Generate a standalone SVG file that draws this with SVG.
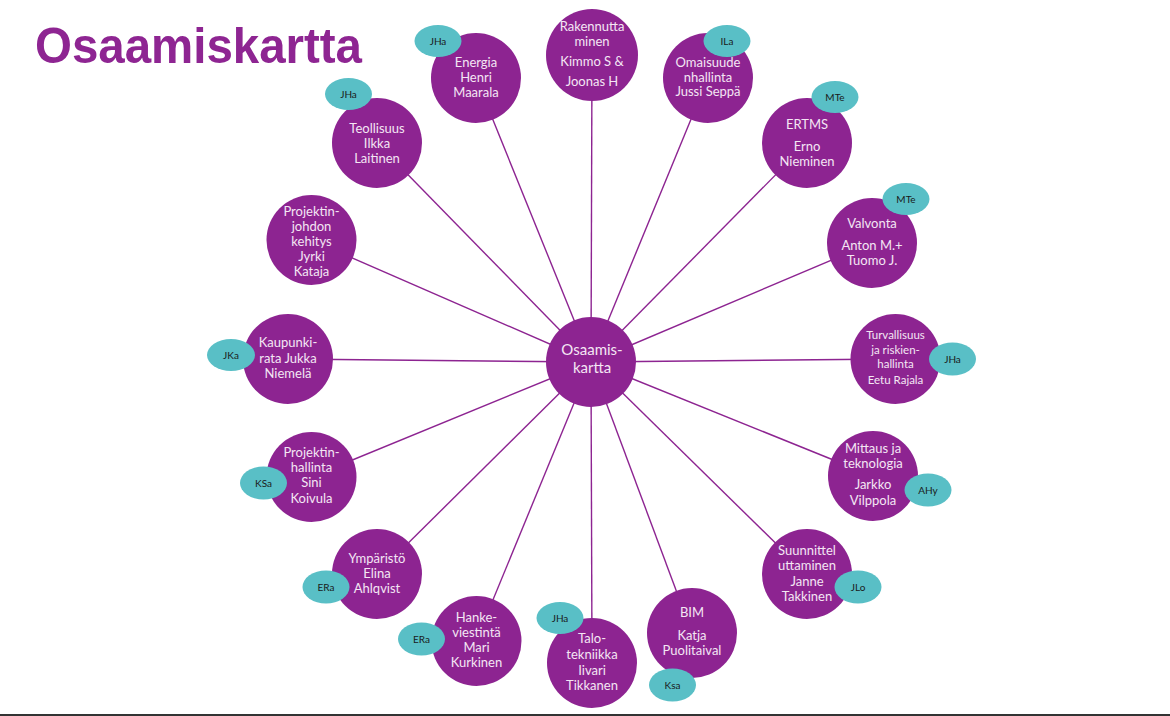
<svg xmlns="http://www.w3.org/2000/svg" width="1170" height="716" viewBox="0 0 1170 716">
<style>
.n{fill:#8D2491}
.o{fill:#59BFC6}
.t{font-family:Lato,"Open Sans","Liberation Sans",sans-serif;font-size:13px;fill:#F4E6F4;text-anchor:middle}
.s{font-size:11.5px}
.c{font-size:15px}
.l{font-family:Lato,"Open Sans","Liberation Sans",sans-serif;font-size:10px;fill:#1A1A1A;text-anchor:middle}
.e{stroke:#8D2491;stroke-width:1.4;fill:none}
</style>
<rect width="1170" height="716" fill="#FFFFFF"/>
<text x="35" y="63" font-family="'Liberation Sans',Arial,sans-serif" font-weight="bold" font-size="50" fill="#8E2592" textLength="327" lengthAdjust="spacingAndGlyphs">Osaamiskartta</text>
<g id="connectors">
<line class="e" x1="591" y1="362" x2="592" y2="55"/>
<line class="e" x1="591" y1="362" x2="476" y2="78"/>
<line class="e" x1="591" y1="362" x2="708" y2="78"/>
<line class="e" x1="591" y1="362" x2="377" y2="143"/>
<line class="e" x1="591" y1="362" x2="807" y2="143"/>
<line class="e" x1="591" y1="362" x2="311" y2="240"/>
<line class="e" x1="591" y1="362" x2="872" y2="243"/>
<line class="e" x1="591" y1="362" x2="288" y2="359"/>
<line class="e" x1="591" y1="362" x2="895" y2="359"/>
<line class="e" x1="591" y1="362" x2="311" y2="477"/>
<line class="e" x1="591" y1="362" x2="873" y2="476"/>
<line class="e" x1="591" y1="362" x2="377" y2="574"/>
<line class="e" x1="591" y1="362" x2="807" y2="574"/>
<line class="e" x1="591" y1="362" x2="476" y2="641"/>
<line class="e" x1="591" y1="362" x2="692" y2="633"/>
<line class="e" x1="591" y1="362" x2="592" y2="663"/>
</g>
<g id="center"><circle class="n" cx="591" cy="362" r="45"/>
<text class="t c"><tspan x="592" y="355">Osaamis-</tspan><tspan x="592" y="373">kartta</tspan></text></g>
<g id="rakennuttaminen"><circle class="n" cx="592" cy="55" r="46"/>
<text class="t"><tspan x="592" y="31">Rakennutta</tspan><tspan x="592" y="46">minen</tspan><tspan x="592" y="66">Kimmo S &amp;</tspan><tspan x="592" y="86">Joonas H</tspan></text></g>
<g id="energia"><circle class="n" cx="476" cy="78" r="45"/>
<text class="t"><tspan x="476" y="67">Energia</tspan><tspan x="476" y="82">Henri</tspan><tspan x="476" y="97">Maarala</tspan></text>
<ellipse class="o" cx="438" cy="41" rx="23.5" ry="16"/><text class="l" x="438" y="45">JHa</text></g>
<g id="omaisuudenhallinta"><circle class="n" cx="708" cy="78" r="45"/>
<text class="t"><tspan x="708" y="67">Omaisuude</tspan><tspan x="708" y="82">nhallinta</tspan><tspan x="708" y="96">Jussi Seppä</tspan></text>
<ellipse class="o" cx="727" cy="41" rx="23.5" ry="16"/><text class="l" x="727" y="45">ILa</text></g>
<g id="teollisuus"><circle class="n" cx="377" cy="143" r="45"/>
<text class="t"><tspan x="377" y="133">Teollisuus</tspan><tspan x="377" y="148">Ilkka</tspan><tspan x="377" y="163">Laitinen</tspan></text>
<ellipse class="o" cx="348.5" cy="94" rx="23.5" ry="16"/><text class="l" x="348.5" y="98">JHa</text></g>
<g id="ertms"><circle class="n" cx="807" cy="143" r="45"/>
<text class="t"><tspan x="807" y="129">ERTMS</tspan><tspan x="807" y="151">Erno</tspan><tspan x="807" y="166">Nieminen</tspan></text>
<ellipse class="o" cx="835" cy="97" rx="23.5" ry="16"/><text class="l" x="835" y="101">MTe</text></g>
<g id="projektinjohdon"><circle class="n" cx="311.5" cy="240" r="45"/>
<text class="t"><tspan x="311.5" y="216">Projektin-</tspan><tspan x="311.5" y="231">johdon</tspan><tspan x="311.5" y="246">kehitys</tspan><tspan x="311.5" y="261">Jyrki</tspan><tspan x="311.5" y="276">Kataja</tspan></text></g>
<g id="valvonta"><circle class="n" cx="872" cy="243" r="45"/>
<text class="t"><tspan x="872" y="228">Valvonta</tspan><tspan x="872" y="250">Anton M.+</tspan><tspan x="872" y="265">Tuomo J.</tspan></text>
<ellipse class="o" cx="906" cy="199" rx="23.5" ry="16"/><text class="l" x="906" y="203">MTe</text></g>
<g id="kaupunkirata"><circle class="n" cx="288" cy="359" r="45"/>
<text class="t"><tspan x="288" y="347">Kaupunki-</tspan><tspan x="288" y="363">rata Jukka</tspan><tspan x="288" y="378">Niemelä</tspan></text>
<ellipse class="o" cx="231" cy="355" rx="24" ry="16"/><text class="l" x="231" y="359">JKa</text></g>
<g id="turvallisuus"><circle class="n" cx="895.5" cy="359" r="45"/>
<text class="t s"><tspan x="895.5" y="339">Turvallisuus</tspan><tspan x="895.5" y="354">ja riskien-</tspan><tspan x="895.5" y="368">hallinta</tspan><tspan x="895.5" y="384">Eetu Rajala</tspan></text>
<ellipse class="o" cx="952.5" cy="359" rx="23.5" ry="16.5"/><text class="l" x="952.5" y="363">JHa</text></g>
<g id="projektinhallinta"><circle class="n" cx="311.5" cy="477" r="45"/>
<text class="t"><tspan x="311.5" y="457">Projektin-</tspan><tspan x="311.5" y="472">hallinta</tspan><tspan x="311.5" y="487">Sini</tspan><tspan x="311.5" y="503">Koivula</tspan></text>
<ellipse class="o" cx="263.5" cy="483" rx="23.5" ry="16.5"/><text class="l" x="263.5" y="487">KSa</text></g>
<g id="mittaus"><circle class="n" cx="873" cy="476" r="45"/>
<text class="t"><tspan x="873" y="453">Mittaus ja</tspan><tspan x="873" y="468">teknologia</tspan><tspan x="873" y="489">Jarkko</tspan><tspan x="873" y="505">Vilppola</tspan></text>
<ellipse class="o" cx="928" cy="490" rx="23.5" ry="16.5"/><text class="l" x="928" y="494">AHy</text></g>
<g id="ymparisto"><circle class="n" cx="377" cy="574" r="45"/>
<text class="t"><tspan x="377" y="563">Ympäristö</tspan><tspan x="377" y="578">Elina</tspan><tspan x="377" y="593">Ahlqvist</tspan></text>
<ellipse class="o" cx="326" cy="587" rx="23.5" ry="16.5"/><text class="l" x="326" y="591">ERa</text></g>
<g id="suunnittelu"><circle class="n" cx="807" cy="574" r="45"/>
<text class="t"><tspan x="807" y="555">Suunnittel</tspan><tspan x="807" y="570">uttaminen</tspan><tspan x="807" y="586">Janne</tspan><tspan x="807" y="601">Takkinen</tspan></text>
<ellipse class="o" cx="858" cy="587" rx="23.5" ry="16.5"/><text class="l" x="858" y="591">JLo</text></g>
<g id="hankeviestinta"><circle class="n" cx="476.5" cy="641" r="45"/>
<text class="t"><tspan x="476.5" y="622">Hanke-</tspan><tspan x="476.5" y="637">viestintä</tspan><tspan x="476.5" y="652">Mari</tspan><tspan x="476.5" y="667">Kurkinen</tspan></text>
<ellipse class="o" cx="421.5" cy="639" rx="23.5" ry="16.5"/><text class="l" x="421.5" y="643">ERa</text></g>
<g id="bim"><circle class="n" cx="692" cy="633" r="45"/>
<text class="t"><tspan x="692" y="617">BIM</tspan><tspan x="692" y="640">Katja</tspan><tspan x="692" y="655">Puolitaival</tspan></text>
<ellipse class="o" cx="672.5" cy="685" rx="23.5" ry="16.5"/><text class="l" x="672.5" y="689">Ksa</text></g>
<g id="talotekniikka"><circle class="n" cx="592" cy="663" r="45"/>
<text class="t"><tspan x="592" y="643">Talo-</tspan><tspan x="592" y="659">tekniikka</tspan><tspan x="592" y="675">Iivari</tspan><tspan x="592" y="690">Tikkanen</tspan></text>
<ellipse class="o" cx="560" cy="618" rx="23.5" ry="16"/><text class="l" x="560" y="622">JHa</text></g>
<rect x="0" y="714" width="1170" height="2" fill="#333333"/>
</svg>
